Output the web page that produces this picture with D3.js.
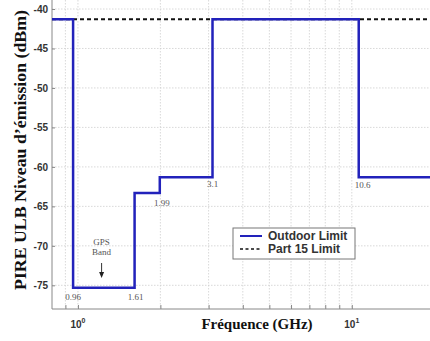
<!DOCTYPE html>
<html><head><meta charset="utf-8">
<script src="https://cdn.jsdelivr.net/npm/d3@7"></script>
<style>body{margin:0;background:#fff}</style>
</head><body>
<svg id="c" width="430" height="341"></svg>
<script>
const yTicks = [-40,-45,-50,-55,-60,-65,-70,-75];
const xMajor = [1, 10];
const xMajorLabels = ["0", "1"];
const xMinor = [0.9, 2, 3, 4, 5, 6, 7, 8, 9, 20];
// Outdoor limit steps: frequency breakpoints (GHz) and levels (dBm)
const outdoorFreq = [0.804, 0.96, 0.96, 1.61, 1.61, 1.99, 1.99, 3.1, 3.1, 10.6, 10.6, 19.3];
const outdoorLevel = [-41.3, -41.3, -75.3, -75.3, -63.3, -63.3, -61.3, -61.3, -41.3, -41.3, -61.3, -61.3];
const part15Freq = [0.804, 19.3];
const part15Level = [-41.3, -41.3];
const breakLabels = ["0.96", "1.61", "1.99", "3.1", "10.6"];
const breakFreq = [0.96, 1.61, 1.99, 3.1, 10.6];
const breakLevel = [-75.3, -75.3, -63.3, -61.3, -61.3];
const legendLabels = ["Outdoor Limit", "Part 15 Limit"];

const svg = d3.select("#c");
const x = d3.scaleLog().domain([0.804, 19.3]).range([52, 430]);
const y = d3.scaleLinear().domain([-78, -40]).range([309, 9]);

const grid = svg.append("g").attr("stroke", "#cfcfcf").attr("stroke-width", 0.8).attr("stroke-dasharray", "1.5,1.5");
yTicks.forEach(v => grid.append("line").attr("x1", 52).attr("x2", 430).attr("y1", y(v)).attr("y2", y(v)));
xMajor.concat(xMinor).forEach(v => grid.append("line").attr("x1", x(v)).attr("x2", x(v)).attr("y1", 0).attr("y2", 309));

// axes
const yAxis = d3.axisLeft(y).tickValues(yTicks).tickSize(3).tickFormat(d => String(d));
const gy = svg.append("g").attr("transform", "translate(52,0)").call(yAxis);
gy.select(".domain").attr("stroke", "#888").attr("d", "M0,0V309");
gy.selectAll(".tick line").attr("stroke", "#888").attr("x2", 3);
gy.selectAll("text").attr("font-family", "Liberation Sans, Arial, sans-serif").attr("font-weight", "bold")
  .attr("font-size", 10).attr("fill", "#333").attr("x", -4);

const xAxis = d3.axisBottom(x).tickValues(xMajor.concat(xMinor)).tickSize(0).tickFormat("");
const gx = svg.append("g").attr("transform", "translate(0,309)").call(xAxis);
gx.select(".domain").attr("stroke", "#888").attr("d", "M52,0H430");
gx.selectAll(".tick").append("line").attr("y2", -4).attr("stroke", "#888");

xMajor.forEach((v, i) => {
  const t = svg.append("text").attr("x", x(v)).attr("y", 328).attr("text-anchor", "middle")
    .attr("font-family", "Liberation Sans, Arial, sans-serif").attr("font-weight", "bold").attr("font-size", 10).attr("fill", "#333");
  t.append("tspan").text("10");
  t.append("tspan").attr("dy", -5).attr("font-size", 7).text(xMajorLabels[i]);
});

// lines
const line = d3.line().x(d => x(d[0])).y(d => y(d[1]));
svg.append("path").datum(part15Freq.map((f, i) => [f, part15Level[i]]))
  .attr("d", line).attr("fill", "none").attr("stroke", "#111").attr("stroke-width", 2).attr("stroke-dasharray", "4,3");
svg.append("path").datum(outdoorFreq.map((f, i) => [f, outdoorLevel[i]]))
  .attr("d", line).attr("fill", "none").attr("stroke", "#2222bb").attr("stroke-width", 2.5);

// break labels
const offs = [[0, 12], [1, 12], [2, 13], [0, 10], [4, 11]];
breakLabels.forEach((t, i) => {
  svg.append("text").attr("x", x(breakFreq[i]) + offs[i][0]).attr("y", y(breakLevel[i]) + offs[i][1])
    .attr("text-anchor", "middle").attr("font-family", "Liberation Serif, Times New Roman, serif")
    .attr("font-size", 9).attr("fill", "#555").text(t);
});

// GPS band annotation
const gx0 = x(1.22);
svg.append("text").attr("x", gx0).attr("y", 245).attr("text-anchor", "middle")
  .attr("font-family", "Liberation Serif, serif").attr("font-size", 9).attr("fill", "#555").text("GPS");
svg.append("text").attr("x", gx0).attr("y", 255).attr("text-anchor", "middle")
  .attr("font-family", "Liberation Serif, serif").attr("font-size", 9).attr("fill", "#555").text("Band");
svg.append("line").attr("x1", gx0).attr("x2", gx0).attr("y1", 263).attr("y2", 273).attr("stroke", "#333").attr("stroke-width", 1);
svg.append("path").attr("d", `M${gx0-2.5},272L${gx0+2.5},272L${gx0},278Z`).attr("fill", "#222");

// legend
const lg = svg.append("g");
lg.append("rect").attr("x", 233).attr("y", 228).attr("width", 122).attr("height", 31)
  .attr("fill", "#fff").attr("stroke", "#777").attr("stroke-width", 1);
lg.append("line").attr("x1", 240).attr("x2", 262).attr("y1", 236).attr("y2", 236).attr("stroke", "#2222bb").attr("stroke-width", 2);
lg.append("line").attr("x1", 240).attr("x2", 262).attr("y1", 249).attr("y2", 249).attr("stroke", "#111").attr("stroke-width", 1.5).attr("stroke-dasharray", "3,2.5");
legendLabels.forEach((t, i) => {
  lg.append("text").attr("x", 268).attr("y", 240 + i * 13).attr("font-family", "Liberation Sans, Arial, sans-serif")
    .attr("font-weight", "bold").attr("font-size", 12).attr("fill", "#333").text(t);
});

// axis titles
svg.append("text").attr("x", 257).attr("y", 329).attr("text-anchor", "middle")
  .attr("font-family", "Liberation Serif, Times New Roman, serif").attr("font-weight", "bold").attr("font-size", 15).attr("fill", "#111")
  .text("Fréquence (GHz)");
svg.append("text").attr("transform", "translate(26,150) rotate(-90)").attr("text-anchor", "middle")
  .attr("font-family", "Liberation Serif, Times New Roman, serif").attr("font-weight", "bold").attr("font-size", 16).attr("fill", "#111")
  .attr("textLength", 280).attr("lengthAdjust", "spacingAndGlyphs")
  .text("PIRE ULB Niveau d’émission (dBm)");
</script>
</body></html>
